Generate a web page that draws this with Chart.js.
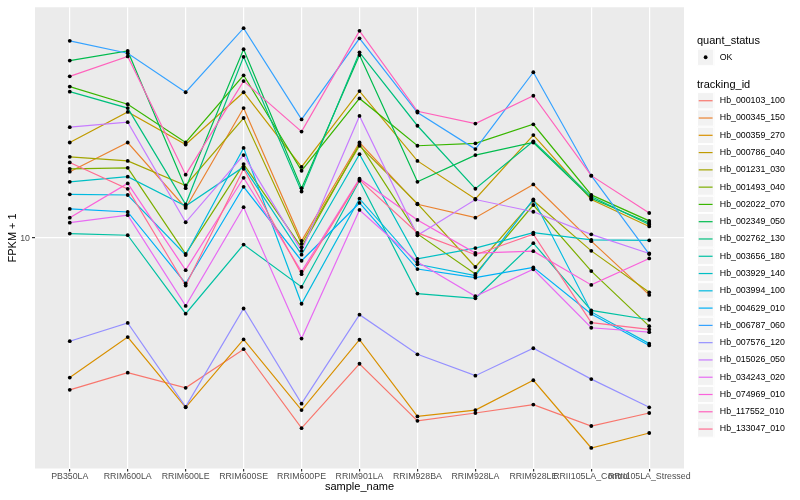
<!DOCTYPE html>
<html><head><meta charset="utf-8">
<script src="https://cdn.jsdelivr.net/npm/chart.js@4.4.0/dist/chart.umd.min.js"></script>
<style>html,body{margin:0;padding:0;background:#fff;}canvas{display:block;}</style>
</head><body>
<canvas id="c" width="800" height="500"></canvas>
<script>
const categories = ["PB350LA","RRIM600LA","RRIM600LE","RRIM600SE","RRIM600PE","RRIM901LA","RRIM928BA","RRIM928LA","RRIM928LE","RRII105LA_Control","RRII105LA_Stressed"];
const trackingIds = ["Hb_000103_100","Hb_000345_150","Hb_000359_270","Hb_000786_040","Hb_001231_030","Hb_001493_040","Hb_002022_070","Hb_002349_050","Hb_002762_130","Hb_003656_180","Hb_003929_140","Hb_003994_100","Hb_004629_010","Hb_006787_060","Hb_007576_120","Hb_015026_050","Hb_034243_020","Hb_074969_010","Hb_117552_010","Hb_133047_010"];
const colors = ["#F8766D","#EA8331","#D89000","#C09B00","#A3A500","#7CAE00","#39B600","#00BB4E","#00BF7D","#00C1A3","#00BFC4","#00BAE0","#00B0F6","#35A2FF","#9590FF","#C77CFF","#E76BF3","#FA62DB","#FF62BC","#FF6C91"];
const yTicks = [10];

const hb_000103_100 = [3.67, 4.11, 3.72, 4.80, 2.85, 4.36, 2.99, 3.15, 3.33, 2.89, 3.15];
const hb_000345_150 = [15.5, 18.8, 12.2, 23.6, 9.82, 18.8, 12.5, 11.44, 14.25, 9.80, 6.87];
const hb_000359_270 = [3.98, 5.20, 3.27, 5.12, 3.21, 5.11, 3.08, 3.21, 3.91, 2.50, 2.76];
const hb_000786_040 = [18.8, 23.0, 18.55, 26.2, 16.0, 26.4, 16.65, 12.95, 19.75, 12.9, 10.8];
const hb_001231_030 = [17.1, 16.65, 14.15, 22.1, 9.63, 18.4, 12.55, 8.26, 12.8, 9.19, 6.99];
const hb_001493_040 = [15.8, 15.9, 9.01, 16.3, 9.41, 18.6, 10.28, 7.89, 12.44, 8.04, 5.59];
const hb_002022_070 = [27.2, 24.2, 18.8, 29.3, 15.6, 25.15, 18.4, 18.7, 21.2, 13.3, 11.2];
const hb_002349_050 = [32.3, 34.4, 13.9, 34.8, 13.9, 33.5, 14.5, 17.3, 18.8, 13.0, 11.05];
const hb_002762_130 = [26.3, 23.6, 12.5, 33.1, 13.6, 34.1, 21.0, 13.85, 18.95, 13.15, 10.94];
const hb_003656_180 = [10.30, 10.19, 6.07, 9.58, 7.24, 14.6, 6.93, 6.72, 9.67, 6.20, 5.83];
const hb_003929_140 = [14.5, 15.0, 12.36, 16.0, 8.96, 17.4, 8.72, 9.36, 10.37, 9.88, 9.85];
const hb_003994_100 = [13.35, 13.29, 8.94, 18.14, 6.48, 12.97, 8.41, 7.80, 12.92, 6.14, 4.98];
const hb_004629_010 = [12.12, 11.88, 7.41, 14.03, 8.61, 12.61, 8.15, 7.70, 8.24, 6.06, 4.92];
const hb_006787_060 = [36.8, 33.9, 26.2, 40.0, 21.9, 37.4, 22.9, 18.0, 29.9, 15.1, 9.00];
const hb_007576_120 = [5.06, 5.71, 3.28, 6.28, 3.35, 6.03, 4.64, 4.03, 4.83, 3.94, 3.27];
const hb_015026_050 = [20.8, 21.5, 11.1, 17.3, 9.19, 22.4, 10.18, 12.9, 11.9, 10.25, 9.03];
const hb_034243_020 = [11.07, 11.63, 6.39, 12.26, 5.15, 12.04, 8.54, 6.81, 8.14, 5.53, 5.37];
const hb_074969_010 = [11.44, 14.35, 8.09, 14.89, 8.01, 14.80, 11.27, 9.06, 9.17, 7.34, 8.74];
const hb_117552_010 = [29.1, 33.2, 15.2, 28.2, 20.2, 39.3, 23.1, 21.3, 25.6, 15.1, 11.8];
const hb_133047_010 = [16.48, 13.84, 7.31, 15.80, 7.88, 14.69, 10.35, 8.96, 10.26, 5.72, 5.47];

const seriesValues = [hb_000103_100, hb_000345_150, hb_000359_270, hb_000786_040, hb_001231_030, hb_001493_040, hb_002022_070, hb_002349_050, hb_002762_130, hb_003656_180, hb_003929_140, hb_003994_100, hb_004629_010, hb_006787_060, hb_007576_120, hb_015026_050, hb_034243_020, hb_074969_010, hb_117552_010, hb_133047_010];

const FONT = '"Liberation Sans", Arial, Helvetica, sans-serif';
Chart.defaults.font.family = FONT;

const datasets = seriesValues.map((vals, i) => ({
  type: 'line',
  label: trackingIds[i],
  data: vals.map((v, j) => ({x: j, y: v})),
  borderColor: colors[i],
  backgroundColor: colors[i],
  borderWidth: 1.2,
  pointRadius: 0,
  tension: 0,
  fill: false,
  order: seriesValues.length - i
}));
const allPoints = [];
seriesValues.forEach(vals => vals.forEach((v, j) => allPoints.push({x: j, y: v})));
datasets.push({
  type: 'scatter',
  label: 'OK',
  data: allPoints,
  pointRadius: 1.9,
  pointBackgroundColor: '#000',
  pointBorderWidth: 0,
  showLine: false,
  order: -1
});

const panelBg = {
  id: 'panelBg',
  beforeDraw(chart) {
    const {ctx, chartArea: a} = chart;
    ctx.save();
    ctx.fillStyle = '#EBEBEB';
    ctx.fillRect(a.left, a.top, a.right - a.left, a.bottom - a.top);
    ctx.restore();
  }
};

const ggLegend = {
  id: 'ggLegend',
  afterDraw(chart) {
    const ctx = chart.ctx;
    const x0 = 697, key = 17.28;
    ctx.save();
    const drawKey = (top) => {
      ctx.fillStyle = '#F2F2F2';
      ctx.fillRect(x0, top, key, key);
      ctx.strokeStyle = '#FFFFFF';
      ctx.lineWidth = 1;
      ctx.strokeRect(x0 + 0.5, top + 0.5, key - 1, key - 1);
    };
    ctx.textAlign = 'left';
    ctx.textBaseline = 'middle';
    ctx.fillStyle = '#000';
    ctx.font = '11px ' + FONT;
    ctx.fillText('quant_status', x0, 40.5);
    const qTop = 48.6;
    drawKey(qTop);
    ctx.fillStyle = '#000';
    ctx.beginPath();
    ctx.arc(x0 + key / 2, qTop + key / 2, 1.9, 0, Math.PI * 2);
    ctx.fill();
    ctx.font = '8.8px ' + FONT;
    ctx.fillText('OK', x0 + key + 5.5, qTop + key / 2);
    ctx.font = '11px ' + FONT;
    ctx.fillText('tracking_id', x0, 85);
    trackingIds.forEach((id, i) => {
      const top = 92.1 + i * key;
      drawKey(top);
      ctx.strokeStyle = colors[i];
      ctx.lineWidth = 1.2;
      ctx.beginPath();
      ctx.moveTo(x0 + 1.7, top + key / 2);
      ctx.lineTo(x0 + key - 1.7, top + key / 2);
      ctx.stroke();
      ctx.fillStyle = '#000';
      ctx.font = '8.8px ' + FONT;
      ctx.fillText(id, x0 + key + 5.5, top + key / 2);
    });
    ctx.restore();
  }
};

new Chart(document.getElementById('c'), {
  data: {datasets},
  options: {
    responsive: false,
    animation: false,
    devicePixelRatio: 1,
    layout: {padding: {top: 5.5, right: 116, left: 0, bottom: 0}},
    plugins: {legend: {display: false}, tooltip: {enabled: false}},
    scales: {
      x: {
        type: 'linear',
        min: -0.6,
        max: 10.6,
        afterBuildTicks: (s) => { s.ticks = categories.map((c, i) => ({value: i})); },
        afterFit: (s) => { s.height = 31.5; },
        ticks: {
          autoSkip: false, maxRotation: 0, minRotation: 0,
          padding: 0,
          color: '#4D4D4D',
          font: {size: 8.8},
          callback: (v) => categories[v]
        },
        grid: {color: '#FFFFFF', lineWidth: 1.2, tickColor: '#333333', tickLength: 3, drawTicks: true},
        border: {display: false},
        title: {display: true, text: 'sample_name', color: '#000', font: {size: 11}, padding: {top: 0, bottom: 6.4}}
      },
      y: {
        type: 'logarithmic',
        min: 2.183,
        max: 45.92,
        afterBuildTicks: (s) => { s.ticks = yTicks.map(v => ({value: v})); },
        afterFit: (s) => { s.width = 35; },
        ticks: {
          padding: 2,
          color: '#4D4D4D',
          font: {size: 8.8},
          callback: (v) => String(v)
        },
        grid: {color: '#FFFFFF', lineWidth: 1.2, tickColor: '#333333', tickLength: 3},
        border: {display: false},
        title: {display: true, text: 'FPKM + 1', color: '#000', font: {size: 11}, padding: {top: 6.4, bottom: 0}}
      }
    }
  },
  plugins: [panelBg, ggLegend]
});
</script>
</body></html>
